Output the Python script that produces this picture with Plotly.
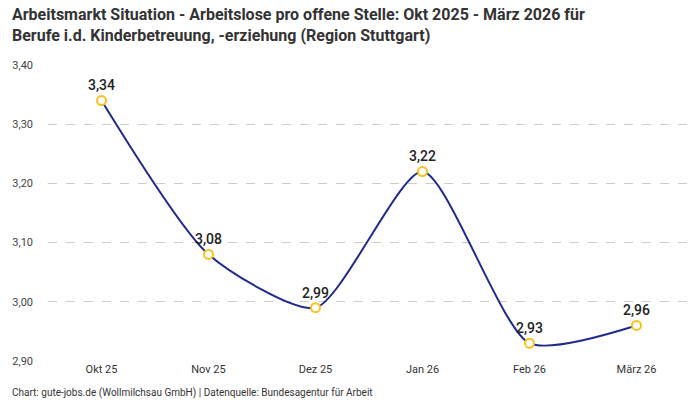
import plotly.graph_objects as go

months = ["Okt 25", "Nov 25", "Dez 25", "Jan 26", "Feb 26", "März 26"]
values = [3.34, 3.08, 2.99, 3.22, 2.93, 2.96]
labels = ["3,34", "3,08", "2,99", "3,22", "2,93", "2,96"]
tick_vals = [2.90, 3.00, 3.10, 3.20, 3.30, 3.40]
tick_text = ["2,90", "3,00", "3,10", "3,20", "3,30", "3,40"]

fig = go.Figure()
fig.add_trace(go.Scatter(
    x=months, y=values, mode="lines+markers+text",
    line=dict(color="#1f2b8c", width=2, shape="spline", smoothing=0.65),
    marker=dict(size=9, color="white", line=dict(color="#f7c21b", width=2)),
    text=labels, textposition="top center",
    textfont=dict(family="Roboto", size=14, color="#222222", weight=500),
    cliponaxis=False, hoverinfo="skip",
))

fig.update_layout(
    width=700, height=400,
    margin=dict(l=48, r=10, t=65, b=39, autoexpand=False),
    paper_bgcolor="white", plot_bgcolor="white",
    showlegend=False,
    xaxis=dict(
        type="category", range=[-0.5, 5.5], showgrid=False, zeroline=False, showline=False,
        ticks="", tickfont=dict(family="Roboto", size=11, color="#333333"),
        fixedrange=True, automargin=False,
    ),
    yaxis=dict(
        range=[2.90, 3.40], tickvals=tick_vals, ticktext=tick_text,
        showgrid=True, gridcolor="#cccccc", griddash="dash", gridwidth=1,
        zeroline=False, showline=False, ticks="",
        tickfont=dict(family="Roboto", size=11, color="#444444"),
        ticklabelstandoff=14, fixedrange=True, automargin=False,
    ),
    annotations=[
        dict(
            text="Arbeitsmarkt Situation - Arbeitslose pro offene Stelle: Okt 2025 - März 2026 für<br>Berufe i.d. Kinderbetreuung, -erziehung (Region Stuttgart)",
            xref="paper", yref="paper", x=-0.0592, y=1.21, xanchor="left", yanchor="top",
            align="left", showarrow=False,
            font=dict(family="Roboto", size=16, color="#333333", weight="bold"),
        ),
        dict(
            text="Chart: gute-jobs.de (Wollmilchsau GmbH) | Datenquelle: Bundesagentur für Arbeit",
            xref="paper", yref="paper", x=-0.0592, y=-0.108, xanchor="left", yanchor="middle",
            showarrow=False, font=dict(family="Roboto", size=10, color="#333333"),
        ),
    ],
)

fig.write_html(
    "out.html",
    config={"displayModeBar": False, "staticPlot": True},
    post_script="document.body.style.margin='0';document.body.style.padding='0';",
)
